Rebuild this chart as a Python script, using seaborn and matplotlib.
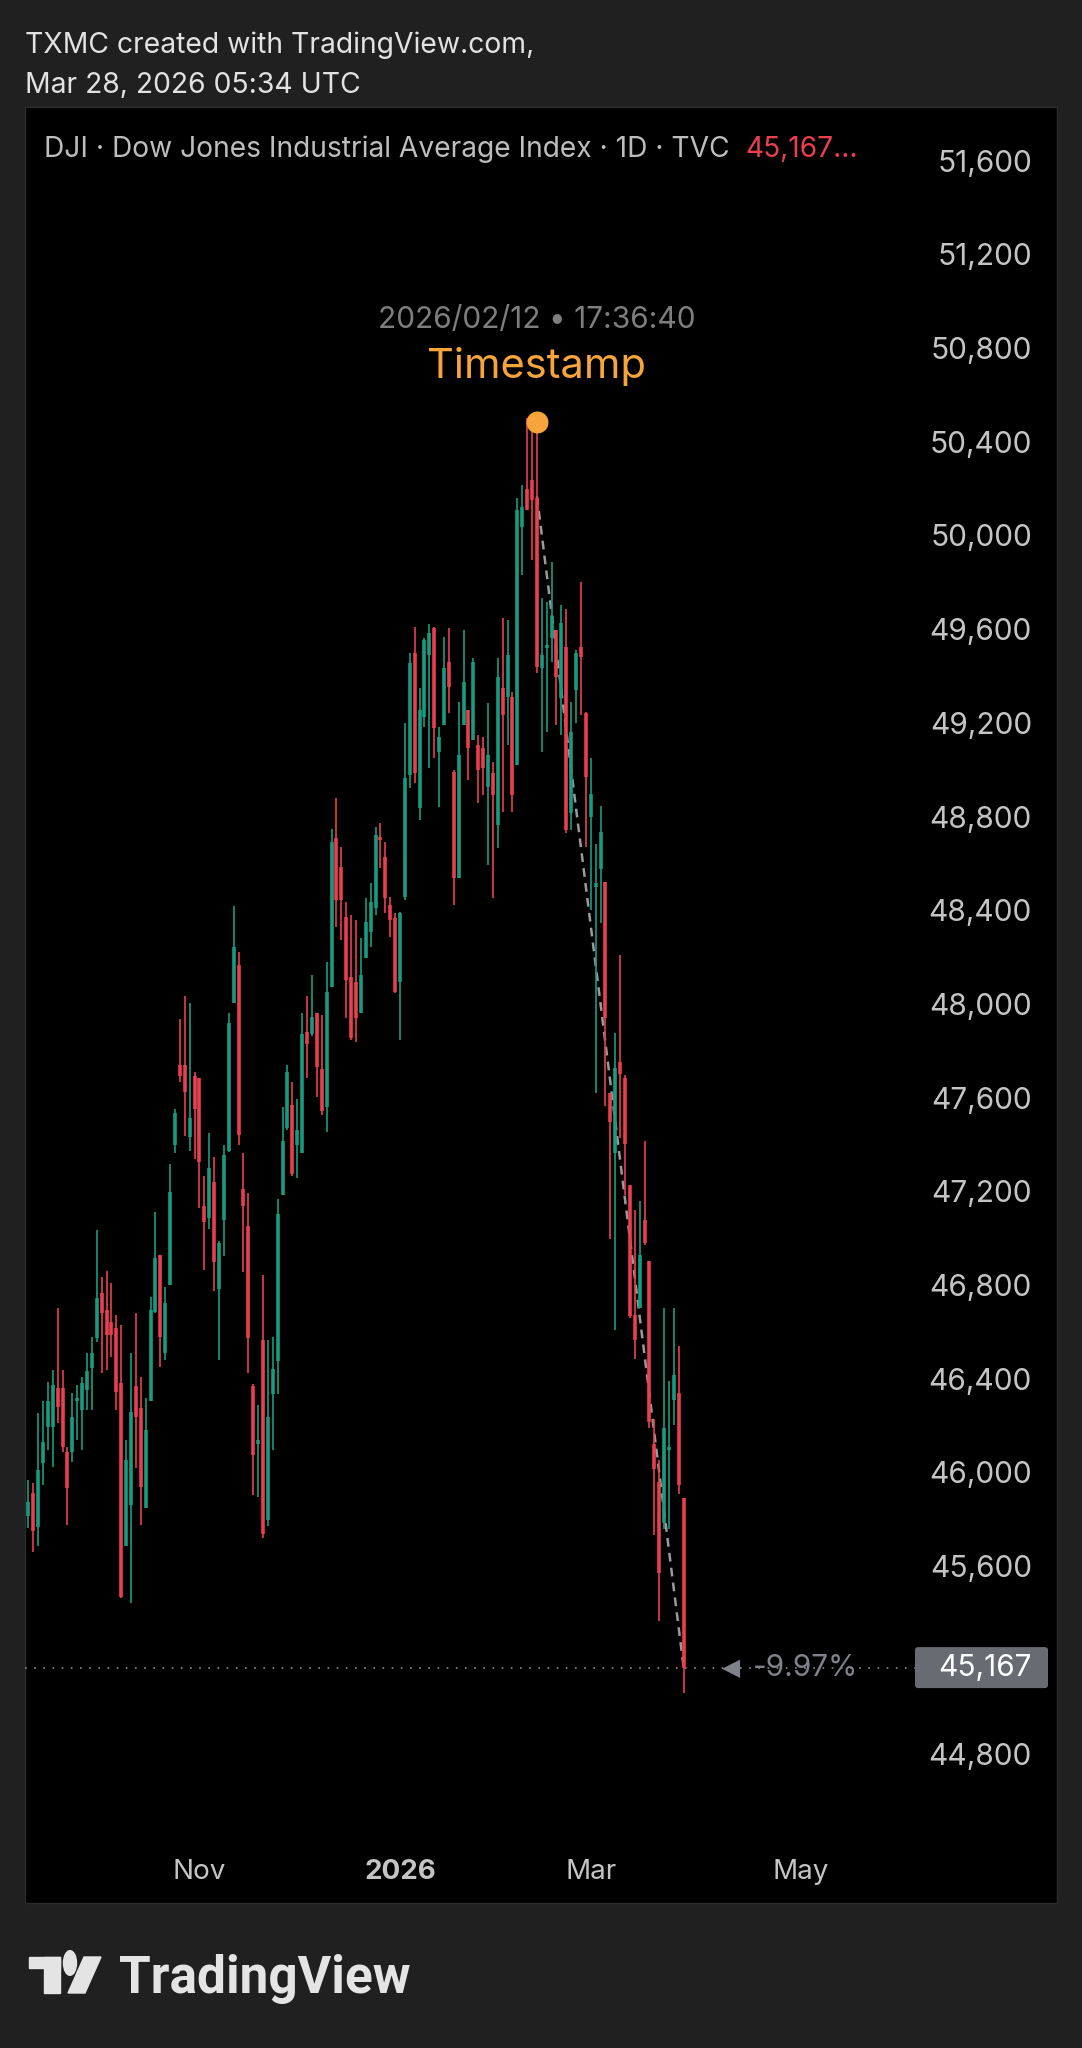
import numpy as np
import pandas as pd
import seaborn as sns
import matplotlib.pyplot as plt
from matplotlib.patches import Rectangle, Circle, Polygon, FancyBboxPatch

# DJI daily candles, 2025-09-12 .. 2026-03-27
opens = [45990, 45814, 45911, 45769, 46040, 46196, 46196, 46360, 46360, 46089,
         46089, 46303, 46267, 46352, 46445, 46573, 46765, 46694, 46644, 46616,
         46381, 45684, 45861, 46367, 46274, 45847, 46303, 46687, 46928, 46509,
         46800, 47397, 47740, 47740, 47430, 47691, 47683, 47136, 47087, 47242,
         46784, 47079, 47373, 48003, 48166, 47209, 47054, 46368, 46123, 46564,
         45796, 46335, 46474, 47185, 47471, 47569, 47397, 47364, 47879, 47871,
         47961, 47724, 47561, 48074, 48707, 48586, 48373, 48117, 48095, 47960,
         48195, 48309, 48408, 48707, 48629, 48423, 48366, 48095, 48458, 48977,
         49497, 48835, 49227, 49490, 49604, 49077, 49191, 49461, 48992, 48536,
         49191, 49255, 49127, 49106, 49091, 48928, 48985, 48764, 49347, 49312,
         49312, 49020, 50038, 50200, 50237, 50159, 49433, 49520, 49561, 49597,
         49305, 49525, 48814, 49340, 49525, 49241, 48800, 48500, 48574, 48521,
         47618, 47362, 47752, 47685, 47227, 46674, 46701, 47079, 46904, 46122,
         45960, 45785, 46095, 46311, 46338, 45893]
highs = [46070, 45968, 45954, 46253, 46303, 46388, 46438, 46701, 46438, 46110,
         46338, 46374, 46409, 46509, 46580, 47035, 46836, 46858, 46808, 46673,
         46630, 46139, 46509, 46680, 46409, 46317, 46751, 47114, 46928, 46793,
         47315, 47552, 47936, 48034, 48002, 47708, 47683, 47266, 47449, 47348,
         46989, 47400, 47961, 48418, 48223, 47364, 47193, 46376, 46286, 46842,
         46564, 46580, 47168, 47561, 47740, 47667, 47593, 47961, 48034, 48124,
         47961, 47953, 48181, 48746, 48878, 48672, 48437, 48380, 48359, 48280,
         48451, 48515, 48757, 48771, 48693, 48458, 48387, 48394, 49198, 49497,
         49611, 49347, 49561, 49622, 49611, 49184, 49568, 49604, 48999, 49291,
         49597, 49255, 49476, 49148, 49141, 49283, 49035, 49476, 49646, 49639,
         49333, 50159, 50216, 50500, 50486, 50485, 49732, 49718, 49885, 49597,
         49703, 49685, 49291, 49511, 49803, 49248, 49051, 48682, 48844, 48521,
         47618, 47874, 48211, 47698, 47227, 47119, 47160, 47416, 46904, 46230,
         46055, 46701, 46392, 46701, 46540, 45893]
lows = [45830, 45762, 45662, 45684, 45947, 46096, 46025, 46210, 46089, 45776,
        46046, 46139, 46096, 46267, 46267, 46559, 46424, 46438, 46495, 46267,
        45463, 45684, 45442, 46018, 45776, 45847, 46303, 46680, 46452, 46480,
        46800, 47364, 47667, 47438, 47373, 47340, 47128, 46866, 47038, 46776,
        46482, 46923, 47370, 48003, 47398, 46857, 46425, 45902, 45894, 45722,
        45771, 46098, 46335, 47185, 47462, 47266, 47258, 47364, 47683, 47863,
        47601, 47528, 47454, 48074, 48330, 48273, 47939, 47846, 47839, 47960,
        48195, 48245, 48380, 48579, 48387, 48287, 48045, 47846, 48444, 48921,
        48942, 48785, 49184, 49006, 49049, 48842, 49191, 49241, 48423, 48536,
        49191, 48956, 49127, 48857, 48892, 48593, 48451, 48664, 48821, 49106,
        48821, 49020, 49831, 50109, 49895, 49411, 49077, 49163, 49461, 49191,
        49148, 48728, 48743, 49198, 49234, 48672, 48400, 47618, 48345, 47564,
        46998, 46607, 47429, 47186, 46661, 46486, 46701, 46971, 46189, 45731,
        45367, 45758, 45758, 46203, 45906, 45057]
closes = [45900, 45876, 45748, 46011, 46132, 46303, 46374, 46281, 46110, 45933,
          46238, 46310, 46381, 46431, 46509, 46744, 46680, 46587, 46587, 46345,
          45470, 46053, 46260, 46238, 45940, 46182, 46694, 46914, 46580, 46722,
          47199, 47536, 47691, 47626, 47512, 47552, 47324, 47070, 47299, 46899,
          46980, 47356, 47918, 48245, 47441, 47136, 46572, 46074, 46131, 45739,
          46237, 46441, 47103, 47413, 47708, 47275, 47462, 47871, 47830, 47945,
          47732, 47544, 48051, 48693, 48444, 48444, 48102, 47853, 47939, 48124,
          48351, 48437, 48721, 48700, 48451, 48359, 48053, 48387, 48963, 49454,
          48985, 49255, 49554, 49582, 49177, 49141, 49433, 49355, 48536, 49063,
          49376, 49091, 49461, 48999, 49006, 49063, 48892, 49397, 49234, 49490,
          48892, 50109, 50123, 50110, 50152, 49440, 49490, 49530, 49654, 49397,
          49625, 48743, 49163, 49497, 49483, 48970, 48895, 48515, 48736, 47941,
          47496, 47725, 47699, 47402, 46670, 46567, 46930, 46980, 46216, 46014,
          45569, 46189, 46108, 46418, 45947, 45167]

last_day = '2026-03-27'
exchange_holidays = ['2025-09-01', '2025-11-27', '2025-12-25', '2026-01-01',
                     '2026-01-19', '2026-02-16', '2026-04-03']
month_starts = ['2025-11-01', '2026-01-01', '2026-03-01', '2026-05-01']
month_labels = ['Nov', '2026', 'Mar', 'May']
price_ticks = list(range(44800, 51601, 400))

stamp_day = '2026-02-12'
stamp_text = '2026/02/12 \u2022 17:36:40'
ref_price = 50168   # where the dashed measure line starts

BG = '#202020'
GREEN = '#199b80'
RED = '#ea3f4e'
ORANGE = '#f7a53a'
TXT = '#c4c4c4'
FS = 21.5

sns.set_theme(style='dark')
plt.rcParams['font.family'] = ['Inter', 'DejaVu Sans']
plt.rcParams['lines.solid_capstyle'] = 'butt'

# trading calendar -> bar index
cal = pd.bdate_range('2025-08-01', '2026-06-30', freq='C', holidays=exchange_holidays)
end = cal.get_loc(pd.Timestamp(last_day))
start = end - len(closes) + 1
tick_pos = [cal.searchsorted(pd.Timestamp(d)) - start for d in month_starts]
stamp_bar = cal.get_loc(pd.Timestamp(stamp_day)) - start

df = pd.DataFrame({'bar': np.arange(len(closes)), 'open': opens, 'high': highs,
                   'low': lows, 'close': closes})
df['dir'] = np.where(df['close'] >= df['open'], 'up', 'down')
df['body_lo'] = df[['open', 'close']].min(axis=1)
df['body_hi'] = np.maximum(df[['open', 'close']].max(axis=1), df['body_lo'] + 14)

wicks = df.melt(id_vars=['bar', 'dir'], value_vars=['low', 'high'], value_name='price')
bodies = df.melt(id_vars=['bar', 'dir'], value_vars=['body_lo', 'body_hi'], value_name='price')
pal = {'up': GREEN, 'down': RED}

W, H = 1082, 2048
fig = plt.figure(figsize=(W / 100, H / 100), dpi=100, facecolor=BG)

# black chart panel
fig.patches.append(Rectangle((25 / W, 1 - 1903 / H), 1032 / W, 1796 / H,
                             transform=fig.transFigure, facecolor='black',
                             edgecolor='#2c2c2c', lw=1, zorder=-1))

ax = fig.add_axes([25 / W, 1 - 1840 / H, 890 / W, 1733 / H])
ax.set_facecolor('none')

last = closes[-1]
ax.axhline(last, color='#8a8a8a', lw=1.2, linestyle=(0, (1, 4.5)), zorder=0.5)
sns.lineplot(x=[stamp_bar, len(closes) - 1], y=[ref_price, last], color='#9a9a9a',
             lw=1.8, linestyle=(0, (3.5, 2.5)), ax=ax, zorder=1)
sns.lineplot(data=wicks, x='bar', y='price', hue='dir', units='bar', estimator=None,
             palette=pal, lw=1.2, legend=False, ax=ax, zorder=2)
sns.lineplot(data=bodies, x='bar', y='price', hue='dir', units='bar', estimator=None,
             palette=pal, lw=2.6, legend=False, ax=ax, zorder=3)

ax.set_xlim(0.33, 182.3)
ax.set_ylim(44431, 51829)
for s in ax.spines.values():
    s.set_visible(False)
ax.grid(False)
ax.set_xlabel('')
ax.set_ylabel('')

yt = [t for t in price_ticks if abs(t - last) > 150]
ax.yaxis.tick_right()
ax.set_yticks(yt, [f'{t:,}' for t in yt])
ax.tick_params(axis='y', length=0, pad=84.2, labelsize=FS, labelcolor=TXT)
for lbl in ax.get_yticklabels():
    lbl.set_horizontalalignment('right')
ax.set_xticks(tick_pos, month_labels)
ax.tick_params(axis='x', length=0, pad=14, labelsize=20, labelcolor=TXT)
ax.get_xticklabels()[1].set_fontweight('bold')

# timestamp marker
ax.scatter([stamp_bar], [highs[stamp_bar]], s=250, color=ORANGE, zorder=6, linewidths=0)
ax.annotate(stamp_text, xy=(stamp_bar, highs[stamp_bar]), xytext=(0, 102),
            textcoords='offset pixels', ha='center', va='center', fontsize=FS,
            color='#7e7e7e')
ax.annotate('Timestamp', xy=(stamp_bar, highs[stamp_bar]), xytext=(0, 55),
            textcoords='offset pixels', ha='center', va='center', fontsize=30,
            color=ORANGE)

# change from the measure line start to the last close
pct = (last / ref_price - 1) * 100
ytr = ax.get_yaxis_transform()
ax.text((722 - 25) / 890, last, '\u25c0', transform=ytr, ha='left', va='center',
        fontsize=17, color='#7f828a', family='DejaVu Sans')
ax.text((753 - 25) / 890, last, f'{pct:.2f}%', transform=ytr, ha='left',
        va='center', fontsize=FS, color='#7f828a')

# last price box
fig.canvas.draw()
ypx = ax.transData.transform((0, last))[1]
fig.patches.append(FancyBboxPatch((915 / W, (ypx - 20.5) / H), 133 / W, 41 / H,
                                  boxstyle='round,pad=0,rounding_size=0.003',
                                  mutation_aspect=W / H, transform=fig.transFigure,
                                  facecolor='#686b72', edgecolor='none'))
fig.text(1032 / W, ypx / H, f'{last:,}', ha='right', va='center', fontsize=FS,
         color='white')

# header
fig.text(25 / W, 1 - 53 / H, 'TXMC created with TradingView.com,', fontsize=20.4,
         color='#e2e2e2', va='baseline')
fig.text(25 / W, 1 - 93 / H, 'Mar 28, 2026 05:34 UTC', fontsize=20.4,
         color='#e2e2e2', va='baseline')
title = fig.text(44 / W, 1 - 157 / H,
                 'DJI \u00b7 Dow Jones Industrial Average Index \u00b7 1D \u00b7 TVC',
                 fontsize=20.3, color='#bdbdbd', va='baseline')
fig.canvas.draw()
bb = title.get_window_extent(fig.canvas.get_renderer())
fig.text((bb.x1 + 16) / W, 1 - 157 / H, f'{last:,}\u2026', fontsize=20.3, color=RED,
         va='baseline')

# TradingView logo
logo = '#e4e4e4'
fig.patches.append(Rectangle((29 / W, 1 - 1968 / H), 31 / W, 11 / H,
                             transform=fig.transFigure, color=logo))
fig.patches.append(Rectangle((44 / W, 1 - 1993 / H), 16 / W, 36 / H,
                             transform=fig.transFigure, color=logo))
fig.patches.append(Circle((70 / W, 1 - 1963 / H), 6.5 / W, transform=fig.transFigure,
                          color=logo))
fig.patches.append(Polygon([(84 / W, 1 - 1957 / H), (101 / W, 1 - 1957 / H),
                            (85 / W, 1 - 1993 / H), (68 / W, 1 - 1993 / H)],
                           closed=True, transform=fig.transFigure, color=logo))
fig.text(119 / W, 1 - 1993 / H, 'TradingView', fontsize=37, fontweight='bold',
         color=logo, va='baseline', family=['Roboto', 'DejaVu Sans'])

fig.savefig('out.png', dpi=100, facecolor=BG)
